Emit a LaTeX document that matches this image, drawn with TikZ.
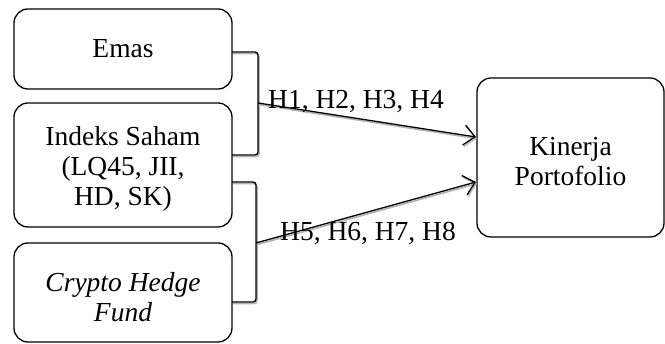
\documentclass[tikz,border=0pt]{standalone}
\usepackage{fontspec}
\setmainfont{Liberation Serif}
\usetikzlibrary{arrows.meta}
\begin{document}
\begin{tikzpicture}[x=1pt,y=-1pt,
  box/.style={draw, line width=1.3pt, rounded corners=14pt, align=center, inner sep=0pt,
    font=\fontsize{27.5}{30}\selectfont},
  txt/.style={align=center, inner sep=0pt, font=\fontsize{27.5}{30}\selectfont},
  shadowed/.style={preaction={draw=gray!60, line width=1.6pt, transform canvas={shift={(1pt,-1.6pt)}}}},
  conn/.style={line width=1.3pt, rounded corners=3pt, shadowed},
  arr/.style={conn, -{Straight Barb[length=11pt,width=20pt,line width=1.3pt]}},
  lab/.style={font=\fontsize{27.5}{30}\selectfont, inner sep=0pt}]
\useasboundingbox (0,0) rectangle (665,344);
\node[box, minimum width=218pt, minimum height=80pt] (e) at (123,49) {Emas};
\node[box, minimum width=218pt, minimum height=124pt] (i) at (123,165) {};
\node[txt] (it) at (123,169) {Indeks Saham\\(LQ45, JII,\\HD, SK)};
\node[box, minimum width=218pt, minimum height=99pt] (c) at (123,292.5) {};
\node[txt] (ct) at (123,297.5) {\itshape Crypto Hedge\\\itshape Fund};
\node[box, minimum width=187pt, minimum height=159pt] (k) at (570.5,157.5) {};
\node[txt] (kt) at (570.5,162) {Kinerja\\Portofolio};
\coordinate (b1a) at (232,52);
\coordinate (b1b) at (232,155);
\coordinate (b1m) at (258,103);
\coordinate (b2a) at (232,182);
\coordinate (b2b) at (232,302);
\coordinate (b2m) at (256,243);
\coordinate (k1) at (476,137);
\coordinate (k2) at (476,182);
\draw[conn] (b1a) -- (258,52) -- (258,155) -- (b1b);
\draw[conn] (b2a) -- (256,182) -- (256,302) -- (b2b);
\draw[arr] (b1m) -- (k1);
\draw[arr] (b2m) -- (k2);
\node[lab] (l1) at (356,102) {H1, H2, H3, H4};
\node[lab] (l2) at (368,233) {H5, H6, H7, H8};
\end{tikzpicture}
\end{document}
